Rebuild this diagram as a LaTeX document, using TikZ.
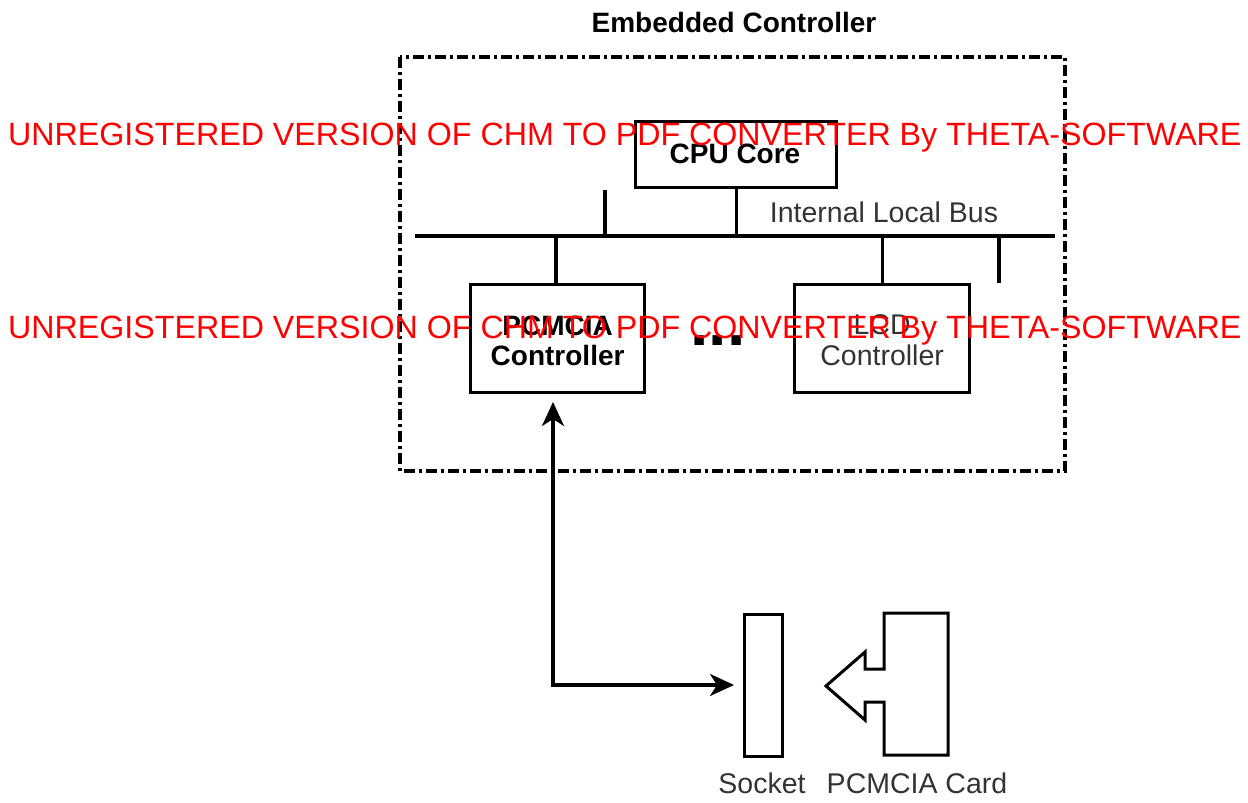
\documentclass[tikz,border=0pt]{standalone}
\usepackage{fontspec}
\setmainfont{Liberation Sans}
\usetikzlibrary{arrows.meta}
\tikzset{
  box/.style={draw, line width=3.2pt, inner sep=0pt, anchor=north west},
  wire/.style={line width=3.2pt},
  lbl/.style={inner sep=0pt, font=\fontsize{28.5}{31}\selectfont, text=black!80},
  blbl/.style={inner sep=0pt, font=\fontsize{28}{30}\selectfont\bfseries, align=center},
  wm/.style={inner sep=0pt, text=red, font=\fontsize{32.2}{34}\selectfont},
  arr/.style={line width=3.2pt, line join=miter, {Stealth[length=24pt,width=22pt,inset=7pt]}-{Stealth[length=24pt,width=22pt,inset=7pt]}},
}
\begin{document}
\begin{tikzpicture}[x=1pt,y=-1pt]
\useasboundingbox (0,0) rectangle (1248,803);
% enclosure
\draw[line width=3.4pt, dash pattern=on 11pt off 4pt on 3pt off 4pt] (400,57) rectangle (1065,471);
\node[blbl, anchor=base] (title) at (734,32) {Embedded Controller};
% CPU
\node[box, minimum width=201pt, minimum height=66pt] (cpu) at (634,120) {};
\node[blbl, anchor=base] (cput) at (735,163) {CPU Core};
% bus
\coordinate (busl) at (415,236);
\coordinate (busr) at (1055,236);
\draw[wire] (busl) -- (busr);
\node[lbl, anchor=base] (buslbl) at (884,222) {Internal Local Bus};
% PCMCIA controller
\node[box, minimum width=174pt, minimum height=108pt] (pcc) at (469,283) {};
\node[blbl] (pcct) at ([yshift=-2pt]pcc.center) {PCMCIA\\Controller};
% LCD controller
\node[box, minimum width=175pt, minimum height=108pt] (lcd) at (793,283) {};
\node[lbl, align=center] (lcdt) at ([yshift=-2pt]lcd.center) {LCD\\Controller};
\node[inner sep=0pt, anchor=base, font=\fontsize{66}{66}\selectfont\bfseries] (dots) at (718,345) {...};
% stubs
\coordinate (s1t) at (605,190);
\coordinate (s1b) at (605,236);
\draw[wire] (s1t) -- (s1b);
\draw[wire] (cpu.south) -- (cpu.south |- busl);
\draw[wire] (556,283) -- (556,236);
\draw[wire] (lcd.north) -- (lcd.north |- busl);
\coordinate (s5t) at (999,236);
\coordinate (s5b) at (999,283);
\draw[wire] (s5t) -- (s5b);
% socket and card
\node[box, line width=3pt, minimum width=38pt, minimum height=142pt] (sock) at (743,613) {};
\coordinate (bend) at (553,685);
\coordinate (ptop) at (553,402);
\coordinate (sin) at (734,685);
\draw[arr] (ptop) -- (bend) -- (sin);
\draw[line width=3pt, line join=miter] (884,613) -- (948,613) -- (948,755) -- (884,755) -- (884,702) -- (865,702) -- (865,720) -- (826,686) -- (865,652) -- (865,669) -- (884,669) -- cycle;
\node[lbl, anchor=base] (socklbl) at (762,793) {Socket};
\node[lbl, anchor=base] (cardlbl) at (917,793) {PCMCIA Card};
% watermark
\node[wm, anchor=base west] (wm1) at (8,145) {UNREGISTERED VERSION OF CHM TO PDF CONVERTER By THETA-SOFTWARE};
\node[wm, anchor=base west] (wm2) at (8,338) {UNREGISTERED VERSION OF CHM TO PDF CONVERTER By THETA-SOFTWARE};
\end{tikzpicture}
\end{document}
